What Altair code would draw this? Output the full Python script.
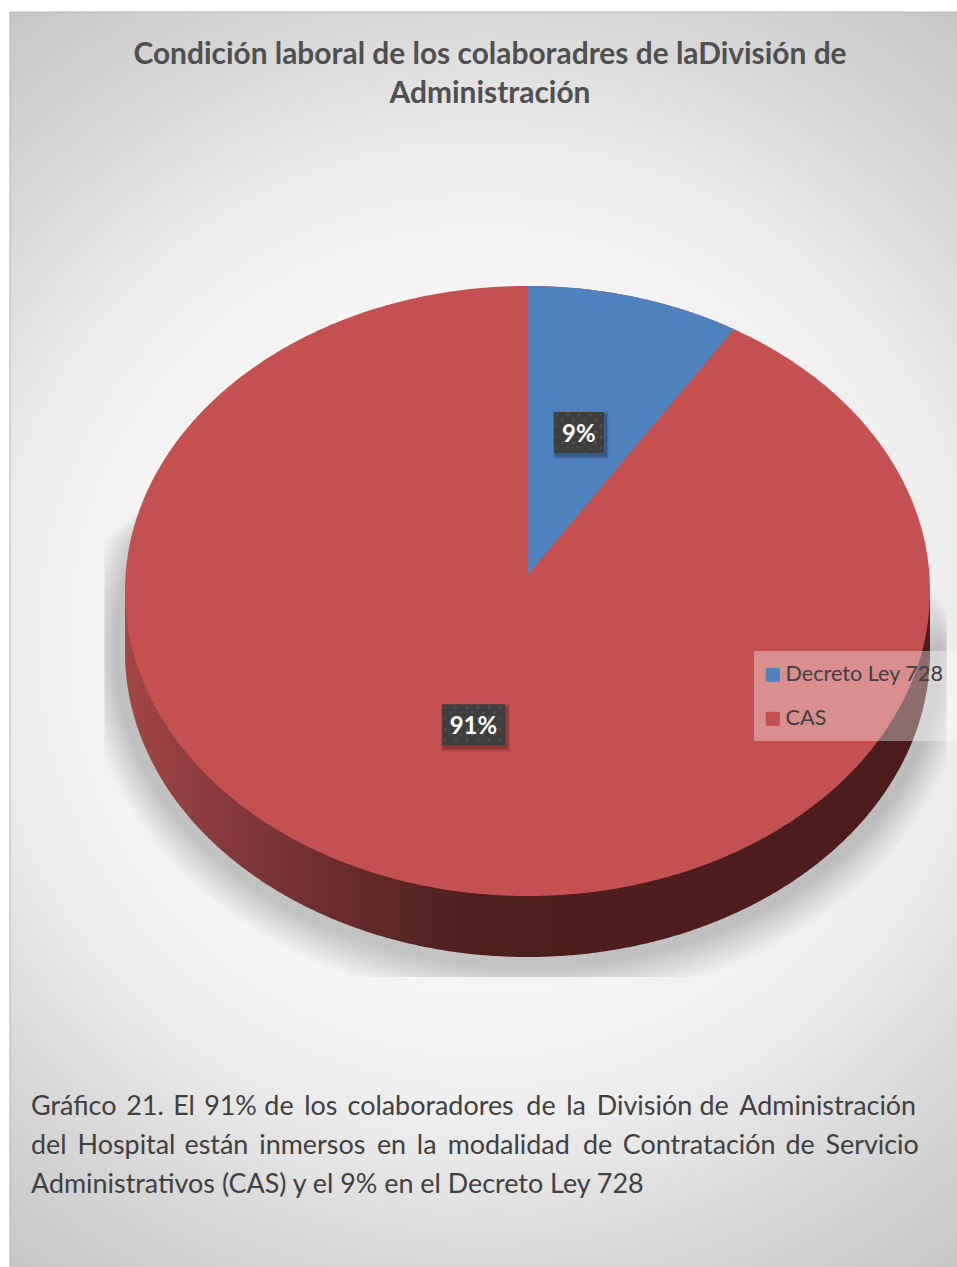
import altair as alt
import numpy as np
import pandas as pd

# Chart values
categories = ["Decreto Ley 728", "CAS"]
shares = [9, 91]
share_labels = ["9%", "91%"]
slice_colors = ["#4F81BD", "#C4514F"]

title_lines = [
    "Condición laboral de los colaboradres de laDivisión de",
    "Administración",
]
caption_lines = [
    "Gráfico 21. El 91% de los colaboradores de la División de Administración",
    "del Hospital están inmersos en la modalidad de Contratación de Servicio",
    "Administrativos (CAS) y el 9% en el Decreto Ley 728",
]

# Canvas and pie geometry, in canvas pixels
W, H = 957, 1267
CX, CY, RX, RY = 527.5, 591.0, 402.5, 305.0
DEPTH = 61.0
APEX_SHIFT = 16.0  # the tilted disc's centre sits above the ellipse's centre
K = 2 * APEX_SHIFT / (2 * RY + 0.0)
A = RX * np.sqrt(1 - K * K)


def project(u, v):
    """Map a point of the unit disc to the tilted pie's top face."""
    den = 1 + K * v
    return CX + A * u / den, CY - (RY * v + APEX_SHIFT) / den


def ellipse_frame(cy, rx, ry, xmin=None, xmax=None, n=500):
    t = np.linspace(np.pi, 0, n)
    x = CX + rx * np.cos(t)
    half = ry * np.sin(t)
    df = pd.DataFrame({"x": x, "top": cy - half, "bottom": cy + half})
    if xmin is not None:
        df = df[(df.x >= xmin) & (df.x <= xmax)]
    return df


x_scale = alt.Scale(domain=[0, W], range=[0, W], nice=False, zero=False)
y_scale = alt.Scale(domain=[H, 0], range=[H, 0], nice=False, zero=False)
X = alt.X("x:Q", scale=x_scale, axis=None)
X2 = alt.X2("x2:Q")
Y = alt.Y("y:Q", scale=y_scale, axis=None)
Y2 = alt.Y2("y2:Q")
slice_color = alt.Color(
    "slice:N",
    scale=alt.Scale(domain=categories, range=slice_colors),
    legend=alt.Legend(
        title=None,
        orient="none",
        legendX=750,
        legendY=652,
        padding=12,
        symbolType="square",
        symbolSize=196,
        symbolStrokeWidth=0,
        symbolOpacity=1,
        labelFont="Lato",
        labelFontSize=21.6,
        labelColor="#404040",
        labelLimit=300,
        rowPadding=21,
        labelOffset=2,
    ),
)

# Page background with its thin border
background = (
    alt.Chart(pd.DataFrame({"x": [10], "x2": [W + 2], "y": [12], "y2": [H + 2]}))
    .mark_rect(
        color=alt.RadialGradient(
            gradient="radial",
            stops=[
                alt.GradientStop(offset=0, color="#ffffff"),
                alt.GradientStop(offset=0.3, color="#fbfbfb"),
                alt.GradientStop(offset=0.58, color="#eeeeee"),
                alt.GradientStop(offset=0.77, color="#d8d8d8"),
                alt.GradientStop(offset=1, color="#c2c2c2"),
            ],
            x1=0.5, y1=0.5, r1=0, x2=0.5, y2=0.5, r2=0.65,
        ),
        stroke="#b4b4b4",
        strokeWidth=1,
    )
    .encode(x=X, x2=X2, y=Y, y2=Y2)
)

# Soft drop shadow: nested ellipses, cut off at the shadow's own box.
# Outer bands begin lower down so the upper end fades out.
bands = []
for i, grow in enumerate(np.linspace(14, 50, 13)):
    band = ellipse_frame(650, RX + grow * 0.8, RY + grow, 104, 947)
    upper_limit = np.where(band["x"] < CX, 480 + (grow - 14) * 1.6, 590 + (grow - 14) * 1.6)
    band["top"] = np.maximum(band["top"], upper_limit)
    band["bottom"] = band["bottom"].clip(upper=977)
    band["band"] = i
    bands.append(band)
shadow = (
    alt.Chart(pd.concat(bands))
    .mark_area(color="#000000", opacity=0.017, orient="vertical")
    .encode(
        x=X,
        y=alt.Y("top:Q", scale=y_scale, axis=None),
        y2=alt.Y2("bottom:Q"),
        detail="band:N",
    )
)

# Side wall of the pie
wall_df = ellipse_frame(CY + DEPTH, RX, RY)
wall_df["top"] = CY
wall = (
    alt.Chart(wall_df)
    .mark_area(
        orient="vertical",
        color=alt.LinearGradient(
            gradient="linear",
            x1=0, x2=1, y1=0, y2=0,
            stops=[
                alt.GradientStop(offset=0, color="#A34643"),
                alt.GradientStop(offset=0.14, color="#82383A"),
                alt.GradientStop(offset=0.27, color="#682C2B"),
                alt.GradientStop(offset=0.42, color="#4F1F1E"),
                alt.GradientStop(offset=1, color="#4B1C1C"),
            ],
        ),
    )
    .encode(
        x=X,
        y=alt.Y("bottom:Q", scale=y_scale, axis=None),
        y2=alt.Y2("top:Q"),
    )
)

# Top face: the large slice fills the ellipse, the small one is cut into it
disc_df = ellipse_frame(CY, RX, RY)
disc_df["slice"] = categories[1]
disc = (
    alt.Chart(disc_df)
    .mark_area(orient="vertical")
    .encode(
        x=X,
        y=alt.Y("top:Q", scale=y_scale, axis=None),
        y2=alt.Y2("bottom:Q"),
        color=slice_color,
    )
)

fraction = shares[0] / sum(shares)
theta = np.linspace(0, 2 * np.pi * fraction, 120)
rim_x, rim_y = project(np.sin(theta), np.cos(theta))
apex_x, apex_y = project(0.0, 0.0)
edge_slope = (rim_y[-1] - apex_y) / (rim_x[-1] - apex_x)
wedge_df = pd.DataFrame(
    {
        "x": rim_x,
        "top": rim_y,
        "bottom": apex_y + (rim_x - apex_x) * edge_slope,
        "slice": categories[0],
    }
)
wedge = (
    alt.Chart(wedge_df)
    .mark_area(orient="vertical")
    .encode(
        x=X,
        y=alt.Y("top:Q", scale=y_scale, axis=None),
        y2=alt.Y2("bottom:Q"),
        color=slice_color,
    )
)

# Translucent panel behind the legend entries
legend_panel = (
    alt.Chart(pd.DataFrame({"x": [754], "x2": [W], "y": [651], "y2": [741]}))
    .mark_rect(color="#ffffff", opacity=0.36)
    .encode(x=X, x2=X2, y=Y, y2=Y2)
)

# Value labels at each slice's mid-angle
label_rows = []
start = 0.0
for share, text in zip(shares, share_labels):
    mid = 2 * np.pi * (start + share / 2) / sum(shares)
    start += share
    lx, ly = project(0.47 * np.sin(mid), 0.5 * np.cos(mid))
    half_w = 25 if len(text) == 2 else 31.5
    label_rows.append(
        {"x": lx - half_w, "x2": lx + half_w, "y": ly - 20.5, "y2": ly + 20.5,
         "cx": lx, "cy": ly, "text": text}
    )
labels_df = pd.DataFrame(label_rows)

box_shadows = []
for grow, alpha in [(3, 0.07), (2, 0.10), (1, 0.14)]:
    moved = labels_df.assign(
        x=labels_df.x + 2 - grow, x2=labels_df.x2 + 2 + grow,
        y=labels_df.y + 3 - grow, y2=labels_df.y2 + 3 + grow,
    )
    box_shadows.append(
        alt.Chart(moved).mark_rect(color="#000000", opacity=alpha).encode(x=X, x2=X2, y=Y, y2=Y2)
    )
boxes = alt.Chart(labels_df).mark_rect(color="#3E3E3E").encode(x=X, x2=X2, y=Y, y2=Y2)

# Dotted texture of the label boxes
dots = []
for row in label_rows:
    for ix, dx in enumerate(np.arange(row["x"] + 3, row["x2"] - 1, 5.5)):
        for iy, dy in enumerate(np.arange(row["y"] + 3, row["y2"] - 1, 5.5)):
            if (ix + iy) % 2 == 0:
                dots.append({"x": dx, "y": dy})
box_dots = (
    alt.Chart(pd.DataFrame(dots))
    .mark_point(filled=True, color="#5C5C5C", size=9, opacity=0.6)
    .encode(x=X, y=Y)
)
box_text = (
    alt.Chart(labels_df)
    .mark_text(font="Lato", fontWeight="bold", fontSize=24, color="#ffffff", baseline="middle", dy=2)
    .encode(
        x=alt.X("cx:Q", scale=x_scale, axis=None),
        y=alt.Y("cy:Q", scale=y_scale, axis=None),
        text="text:N",
    )
)

# Heading
title_df = pd.DataFrame({"x": [490, 490], "y": [64, 103], "text": title_lines})
title = (
    alt.Chart(title_df)
    .mark_text(font="Lato", fontWeight="bold", fontSize=29.9, color="#505050", align="center", baseline="alphabetic")
    .encode(x=X, y=Y, text="text:N")
)

# Caption: the first two lines are justified word by word
CHAR_EM = {
    "a": .479, "b": .525, "c": .423, "d": .525, "e": .498, "f": .305, "g": .471, "h": .525,
    "i": .229, "j": .239, "k": .455, "l": .229, "m": .799, "n": .525, "o": .527, "p": .525,
    "q": .525, "r": .349, "s": .391, "t": .335, "u": .525, "v": .452, "w": .715, "x": .433,
    "y": .453, "z": .395, ".": .252, ",": .25, "%": .715, "(": .303, ")": .303,
    "G": .631, "E": .488, "D": .615, "A": .579, "H": .623, "C": .533, "S": .459, "L": .42,
    "á": .479, "ó": .527, "í": .229,
}
CAPTION_SIZE = 26.9
EM_SCALE = 1.075
CAPTION_LEFT, CAPTION_RIGHT = 31, 917


def word_width(word):
    return sum(CHAR_EM.get(ch, .507) for ch in word) * CAPTION_SIZE * EM_SCALE


caption_rows = []
for line_no, line in enumerate(caption_lines):
    baseline = 1115 + 39 * line_no
    if line_no < 2:
        words = line.split(" ")
        widths = [word_width(w) for w in words]
        gap = (CAPTION_RIGHT - CAPTION_LEFT - sum(widths)) / (len(words) - 1)
        pos = CAPTION_LEFT
        for w, ww in zip(words, widths):
            caption_rows.append({"x": pos, "y": baseline, "text": w})
            pos += ww + gap
    else:
        caption_rows.append({"x": CAPTION_LEFT, "y": baseline, "text": line})
caption = (
    alt.Chart(pd.DataFrame(caption_rows))
    .mark_text(font="Lato", fontSize=CAPTION_SIZE, color="#404040", align="left", baseline="alphabetic")
    .encode(x=X, y=Y, text="text:N")
)

chart = (
    alt.layer(
        background, shadow, wall, disc, wedge, legend_panel, *box_shadows, boxes, box_dots, box_text, title, caption
    )
    .properties(width=W, height=H, padding=0, autosize=alt.AutoSizeParams(type="none"))
    .configure_view(stroke=None)
)

chart.save("out.html", embed_options={"renderer": "svg", "actions": False})
